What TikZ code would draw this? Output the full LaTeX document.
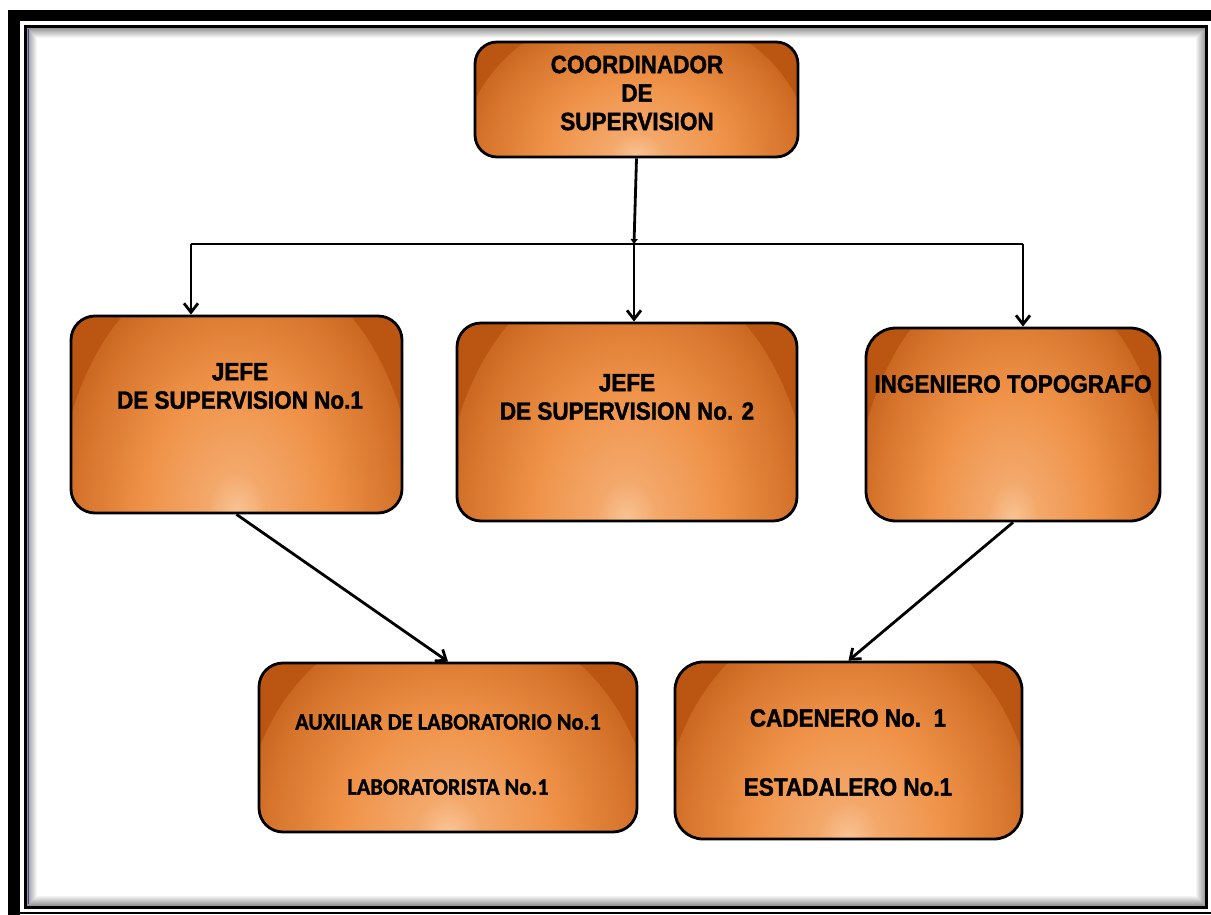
\documentclass[tikz,border=0pt]{standalone}
\usepackage{fontspec}
\setmainfont{Liberation Sans}
\newfontfamily\arialc{Liberation Sans Bold}[FakeStretch=0.9,FakeBold=1.5]
\newfontfamily\carl{Carlito Bold}[FakeStretch=0.95,FakeBold=1.2]
\usetikzlibrary{arrows.meta,calc}
\definecolor{oDark}{RGB}{186,86,18}
\definecolor{oDeep}{RGB}{214,116,44}
\definecolor{oMid}{RGB}{239,146,72}
\definecolor{oLight}{RGB}{249,196,150}
\pgfdeclareradialshading{orgshade}{\pgfpoint{0bp}{0bp}}{color(0bp)=(oLight); color(4bp)=(oMid!55!oLight); color(13bp)=(oMid); color(22bp)=(oDeep); color(29bp)=(oDark); color(50bp)=(oDark)}
\tikzset{
  orgbox/.style={draw=black, line width=2.8pt, rounded corners=#1, inner sep=0pt,
    path picture={\fill[oDark] (path picture bounding box.south west) rectangle (path picture bounding box.north east);
      \shade[shading=orgshade] let \p1=(path picture bounding box.north east), \p2=(path picture bounding box.south) in (\p2) ellipse [x radius={1.08*(\x1-\x2)}, y radius={1.3*(\y1-\y2)}];}},
  orgbox/.default=24pt,
  lbl/.style={font=\arialc\fontsize{25}{28.5}\selectfont, align=center, inner sep=0pt},
  clbl/.style={font=\carl\fontsize{23.5}{28}\selectfont, inner sep=0pt},
  conn/.style={line width=2.8pt, -{Straight Barb[length=9pt,width=14pt,line width=2.8pt]}},
  smallconn/.style={line width=2.8pt, -{Triangle[length=5pt,width=7pt]}},
  link/.style={line width=2.8pt}
}
\begin{document}
\begin{tikzpicture}[x=1pt,y=-1pt]
\useasboundingbox (0,0) rectangle (1211,915);
\fill[white] (0,0) rectangle (1211,915);
% frame
\fill[black] (8,10) rectangle (20,915);
\fill[black] (8,10) rectangle (1211,21);
\draw[black, line width=1.5pt] (20,913) -- (1211,913);
\foreach \i in {1,...,10}{
  \pgfmathsetmacro\op{0.45*(1-\i/11)}
  \draw[black, opacity=\op, line width=1pt] (26+\i,28+\i) rectangle (1206-\i,906-\i);
}
\draw[black, line width=3pt] (25.5,26.5) rectangle (1206.5,907);
\draw[blue!60!black, opacity=0.6, line width=1pt] (28,29) -- (28,904);
% boxes
\node[orgbox=22pt, minimum width=323pt, minimum height=115pt] (coord) at (636.5,99.5) {};
\node[orgbox, minimum width=331pt, minimum height=197pt] (j1) at (236.5,414.5) {};
\node[orgbox, minimum width=340pt, minimum height=198pt] (j2) at (627,422) {};
\node[orgbox=30pt, minimum width=294pt, minimum height=193pt] (ing) at (1013,424.5) {};
\node[orgbox, minimum width=378pt, minimum height=169pt] (aux) at (448,747.5) {};
\node[orgbox=28pt, minimum width=347pt, minimum height=177pt] (cad) at (848.5,750.5) {};
% texts
\node[lbl] (tcoord) at (637,93) {COORDINADOR\\DE\\SUPERVISION};
\node[lbl] (tj1) at (240,386) {JEFE\\DE SUPERVISION No.1};
\node[lbl] (tj2) at (627,397) {JEFE\\DE SUPERVISION No. 2};
\node[lbl] (ting) at (1013,384) {INGENIERO TOPOGRAFO};
\node[clbl] (ta1) at (448,722) {AUXILIAR DE LABORATORIO No.1};
\node[clbl] (ta2) at (448,787) {LABORATORISTA No.1};
\node[lbl] (tc1) at (848,718) {CADENERO No.\ \ 1};
\node[lbl] (tc2) at (848,787) {ESTADALERO No.1};
% connectors
\coordinate (hL) at (191,244);
\coordinate (hM) at (634,244);
\coordinate (hR) at (1023,244);
\draw[link] (hL) -- (hR);
\draw[smallconn] (coord.south) -- (hM);
\draw[conn] (hL) -- (hL |- j1.north);
\draw[conn] (hM) -- (hM |- j2.north);
\draw[conn] (hR) -- (hR |- ing.north);
\draw[conn] (j1.south) -- (aux.north);
\draw[conn] (ing.south) -- (cad.north);
\end{tikzpicture}
\end{document}
